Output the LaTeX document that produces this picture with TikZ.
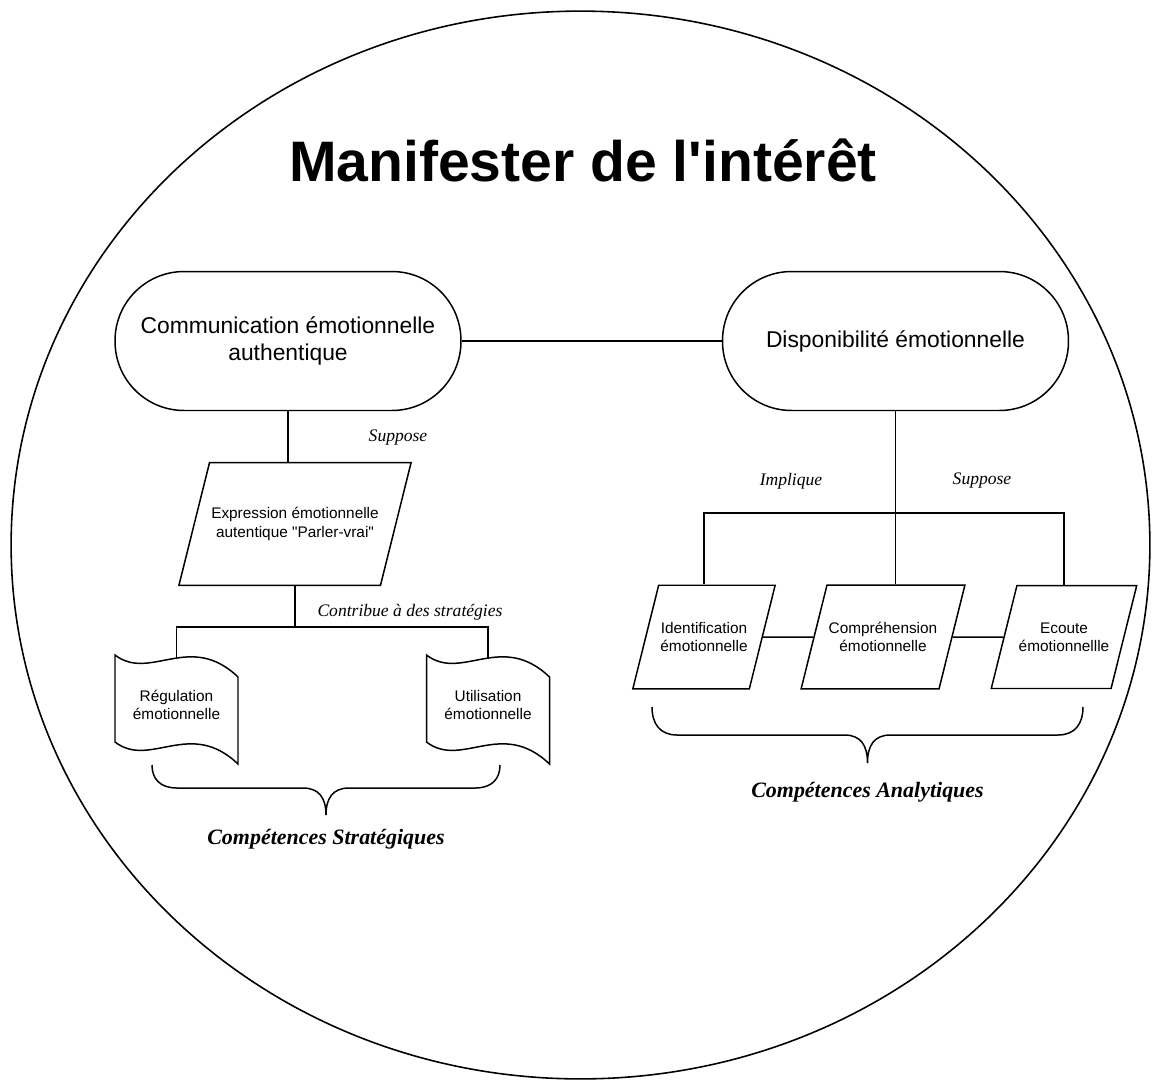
\documentclass[tikz,border=0pt]{standalone}
\usepackage{fontspec}
\setmainfont{Liberation Sans}
\newfontfamily\sansfam{Liberation Sans}
\newfontfamily\lblfont{Liberation Serif}
\usetikzlibrary{shapes.geometric, calc}

\begin{document}
\begin{tikzpicture}[
    x=0.02cm, y=-0.02cm,
    shp/.style={line width=0.85pt},
    link/.style={line width=0.85pt},
    term/.style={shp, draw, rectangle, rounded corners=1.38cm, minimum width=6.92cm,
      minimum height=2.78cm, align=center, font=\sansfam\fontsize{13}{15.5}\selectfont},
    para/.style={shp, draw, trapezium, trapezium left angle=76, trapezium right angle=104,
      trapezium stretches body, align=center, inner xsep=1pt, inner ysep=21pt,
      font=\sansfam\fontsize{8.75}{10.5}\selectfont},
    boxtxt/.style={align=center, font=\sansfam\fontsize{8.75}{10.5}\selectfont},
    lbl/.style={font=\lblfont\itshape\fontsize{10}{12}\selectfont},
    grp/.style={font=\lblfont\bfseries\itshape\fontsize{12.5}{15}\selectfont},
  ]
  \useasboundingbox (0,0) rectangle (1157,1080);
  \draw[line width=0.9pt] (580.5,545) ellipse [x radius=11.39cm, y radius=10.68cm];
  \node[anchor=base, font=\sansfam\bfseries\fontsize{32.5}{39}\selectfont] (titre) at (583,181) {Manifester de l'intérêt};

  \node[term] (com) at (288,341) {Communication émotionnelle\\authentique};
  \node[term] (dispo) at (895.5,341) {Disponibilité émotionnelle};
  \draw[link] (com) -- (dispo);

  % cote strategique
  \node[para, minimum width=4.44cm, inner ysep=25.5pt] (expr) at (295,524)
        {Expression émotionnelle\\autentique "Parler-vrai"};
  \draw[link] (com.south) -- (com.south |- expr.north);
  \foreach \nm/\cx/\txt in {reg/176.5/{Régulation\\émotionnelle}, uti/488/{Utilisation\\émotionnelle}}{
    \node[boxtxt] (\nm) at (\cx,705) {\txt};
    \draw[shp] ($(\nm)+(-61.5,-50)$) .. controls ($(\nm)+(-26.5,-23)$) and ($(\nm)+(13.5,-74)$) .. ($(\nm)+(61.5,-28)$)
          -- ($(\nm)+(61.5,59)$) .. controls ($(\nm)+(13.5,13)$) and ($(\nm)+(-26.5,64)$) .. ($(\nm)+(-61.5,37)$) -- cycle;
    \coordinate (\nm-top) at ($(\nm)+(0,-46)$);
  }
  \path (expr.south) ++(0,41) coordinate (busG);
  \draw[link] (expr.south) -- (busG);
  \draw[link] (reg-top) |- (busG) -| (uti-top);
  \node[lbl] (supG) at (398,438) {Suppose};
  \node[lbl] (contrib) at (410,612) {Contribue à des stratégies};

  % cote analytique
  \node[para, minimum width=2.70cm] (ident) at (704,637) {Identification\\émotionnelle};
  \node[para, minimum width=3.06cm] (compr) at (883,637) {Compréhension\\émotionnelle};
  \node[para, minimum width=2.74cm] (ecoute) at (1064,637) {Ecoute\\émotionnellle};
  \draw[link] (dispo.south) -- (dispo.south |- compr.north);
  \path (dispo.south) ++(0,102) coordinate (busD);
  \draw[link] (ident.north) |- (busD) -| (ecoute.north);
  \draw[link] (ident) -- (compr);
  \draw[link] (compr) -- (ecoute);
  \node[lbl] (impl) at (791,481) {Implique};
  \node[lbl] (supD) at (982,481) {Suppose};

  \foreach \xa/\xb/\ya/\hb/\tp/\lb/\nm/\txt in {%
     152/500/765/23/50/74/strat/{Compétences Stratégiques},
     652/1083/707/28/56/85/analy/{Compétences Analytiques}%
  }{
    \pgfmathsetmacro\xm{(\xa+\xb)/2}
    \draw[shp] (\xa,\ya) .. controls (\xa,\ya+0.6*\hb) and (\xa+8,\ya+\hb) .. (\xa+25,\ya+\hb)
          -- (\xm-23,\ya+\hb) .. controls (\xm-7,\ya+\hb) and (\xm,\ya+\hb+10) .. (\xm,\ya+\tp)
          .. controls (\xm,\ya+\hb+10) and (\xm+7,\ya+\hb) .. (\xm+23,\ya+\hb)
          -- (\xb-25,\ya+\hb) .. controls (\xb-8,\ya+\hb) and (\xb,\ya+0.6*\hb) .. (\xb,\ya);
    \node[grp] (\nm) at (\xm,\ya+\lb) {\txt};
  }
\end{tikzpicture}
\end{document}
